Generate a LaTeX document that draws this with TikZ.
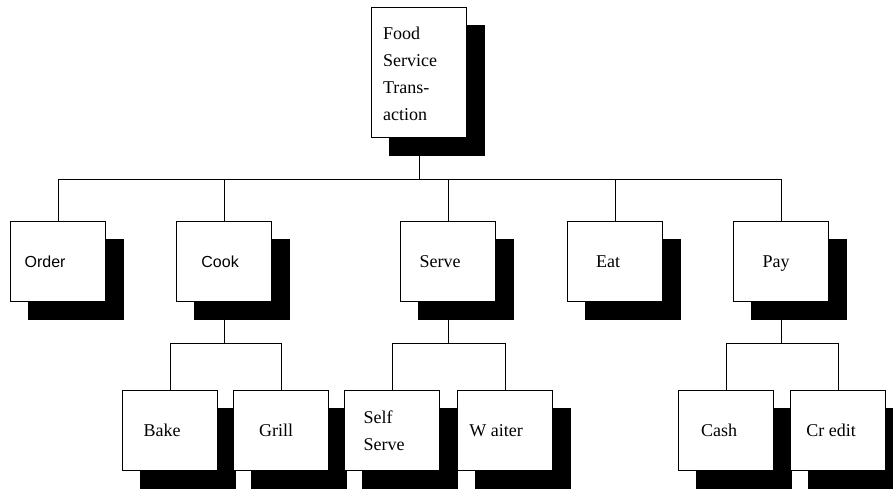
\documentclass[tikz,border=0pt]{standalone}
\usepackage{fontspec}
\setmainfont{Liberation Serif}
\newfontfamily\plainsans{Liberation Sans}
\usetikzlibrary{shadows,calc}

\pgfdeclarelayer{paper}
\pgfdeclarelayer{wires}
\pgfsetlayers{paper,wires,main}

\begin{document}
\begin{tikzpicture}[
  x=1pt, y=-1pt,
  box/.style={draw, line width=1.2pt, fill=white, anchor=north west,
    minimum width=95pt, minimum height=80pt, inner sep=0pt,
    drop shadow={shadow xshift=17.5pt, shadow yshift=-17.5pt,
      fill=black, draw=black, line width=1.2pt, opacity=1}},
  tallbox/.style={box, minimum height=130pt},
  wire/.style={line width=1.1pt},
  boxtext/.style={font=\fontsize{18}{27}\selectfont, align=left, inner sep=0pt},
  oneline/.style={boxtext, text height=12pt, text depth=0pt},
  sansline/.style={oneline, font=\plainsans\fontsize{16}{20}\selectfont}
]
\clip (0,0) rectangle (893,488);
\begin{pgfonlayer}{paper}
  \fill[white] (0,0) rectangle (893,488);
\end{pgfonlayer}

% top of the tree
\node[tallbox] (root) at (371,7) {};

% first level
\node[box] (order) at (10,221) {};
\node[box] (cook) at (176,221) {};
\node[box] (serve) at (400,221) {};
\node[box] (eat) at (567,221) {};
\node[box] (pay) at (733,221) {};

% second level
\node[box] (bake) at (122,390) {};
\node[box] (grill) at (233,390) {};
\node[box] (selfserve) at (344,390) {};
\node[box] (waiter) at (457,390) {};
\node[box] (cash) at (678,390) {};
\node[box] (credit) at (790,390) {};

% labels
\node[boxtext] (root-t) at ($(root.center)+(-9,1)$) {Food\\Service\\Trans-\\action};
\node[sansline] (order-t) at ($(order.center)+(-13,0)$) {Order};
\node[sansline] (cook-t) at ($(cook.center)+(-4,0)$) {Cook};
\node[oneline] (serve-t) at ($(serve.center)+(-8,0)$) {Serve};
\node[oneline] (eat-t) at ($(eat.center)+(-7,0)$) {Eat};
\node[oneline] (pay-t) at ($(pay.center)+(-5,0)$) {Pay};
\node[oneline] (bake-t) at ($(bake.center)+(-8,0)$) {Bake};
\node[oneline] (grill-t) at ($(grill.center)+(-5,0)$) {Grill};
\node[boxtext] (selfserve-t) at ($(selfserve.center)+(-8,0)$) {Self\\Serve};
\node[oneline] (waiter-t) at ($(waiter.center)+(-9,0)$) {W aiter};
\node[oneline] (cash-t) at ($(cash.center)+(-7,0)$) {Cash};
\node[oneline] (credit-t) at ($(credit.center)+(-7,0)$) {Cr edit};

% junctions, 41pt below each parent box
\coordinate (rootbus) at ($(root.south)+(0,41)$);
\coordinate (cookbus) at ($(cook.south)+(0,41)$);
\coordinate (servebus) at ($(serve.south)+(0,41)$);
\coordinate (paybus) at ($(pay.south)+(0,41)$);

% connectors sit under the boxes and their shadows
\begin{pgfonlayer}{wires}
  \begin{scope}[wire]
    \draw (root.south) -- (rootbus);
    \foreach \n in {order,cook,serve,eat,pay} \draw (rootbus) -| (\n.north);
    \draw (cook.south) -- (cookbus);
    \draw (cookbus) -| (bake.north);
    \draw (cookbus) -| (grill.north);
    \draw (serve.south) -- (servebus);
    \draw (servebus) -| (selfserve.north);
    \draw (servebus) -| (waiter.north);
    \draw (pay.south) -- (paybus);
    \draw (paybus) -| (cash.north);
    \draw (paybus) -| (credit.north);
  \end{scope}
\end{pgfonlayer}
\end{tikzpicture}
\end{document}
